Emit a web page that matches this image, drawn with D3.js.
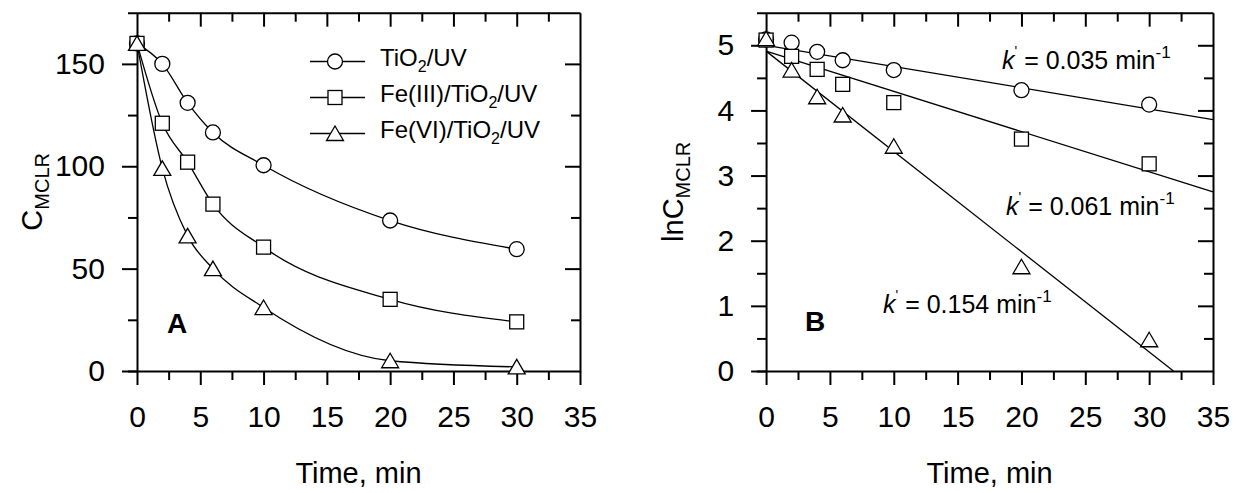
<!DOCTYPE html>
<html>
<head>
<meta charset="utf-8">
<script src="https://cdn.jsdelivr.net/npm/d3@7"></script>
<style>
  body { margin: 0; background: #fff; }
  svg { display: block; }
</style>
</head>
<body>
<div id="chart"></div>
<script>
// data
const time = [0, 2, 4, 6, 10, 20, 30];
const seriesNames = ['TiO2/UV', 'Fe(III)/TiO2/UV', 'Fe(VI)/TiO2/UV'];

// panel A: C_MCLR
const cTiO2 = [160, 150, 131, 116.5, 100.5, 73.5, 59.5];
const cFe3 = [160, 121, 102, 81.5, 60.5, 35, 24];
const cFe6 = [160, 99, 66, 50, 31, 5, 2];

// panel B: lnC_MCLR
const lnTiO2 = [5.09, 5.04, 4.90, 4.77, 4.62, 4.31, 4.09];
const lnFe3 = [5.08, 4.83, 4.63, 4.40, 4.12, 3.56, 3.18];
const lnFe6 = [5.10, 4.62, 4.21, 3.93, 3.45, 1.60, 0.48];

// linear fits in panel B (end points)
const fitX0 = [0, 0, 0];
const fitY0 = [5.0, 4.91, 4.91];
const fitX1 = [35, 35, 31.9];
const fitY1 = [3.86, 2.75, 0];
const rateK = ['0.035', '0.061', '0.154'];

const xMajor = [0, 5, 10, 15, 20, 25, 30, 35];
const xMinor = [2.5, 7.5, 12.5, 17.5, 22.5, 27.5, 32.5];
const yMajorA = [0, 50, 100, 150];
const yMinorA = [25, 75, 125];
const yMajorB = [0, 1, 2, 3, 4, 5];
const yMinorB = [0.5, 1.5, 2.5, 3.5, 4.5];

const FONT = '"Liberation Sans", Arial, Helvetica, sans-serif';
const W = 1242, H = 493;
const TOP = 12.7, BOTTOM = 371;

const svg = d3.select('#chart').append('svg')
    .attr('width', W)
    .attr('height', H)
    .style('font-family', FONT);

svg.append('rect').attr('width', W).attr('height', H).attr('fill', '#fff');

// marker shapes, index follows seriesNames
function marker(sel, i) {
    if (i === 0) {
	sel.append('circle').attr('r', 7.5)
    } else if (i === 1) {
	sel.append('rect').attr('x', -7).attr('y', -7).attr('width', 14).attr('height', 14)
    } else {
	sel.append('path').attr('d', 'M0,-7.5L8.5,7L-8.5,7Z')
    }
    sel.selectAll('circle,rect,path')
	.attr('fill', '#fff')
	.attr('stroke', '#000')
	.attr('stroke-width', 1.3)
}

function styleAxis(g, labels) {
    g.selectAll('.domain').attr('stroke-width', 2)
    g.selectAll('.tick line').attr('stroke-width', 2)
    g.attr('font-family', FONT).attr('font-size', 30)
    if (!labels) g.selectAll('text').remove()
}

function drawFrame(g, x, y, yMajor, yMinor) {
    const x0 = x(0), x35 = x(35)
    const fmt = d3.format('d')
    // bottom
    g.append('g').attr('transform', 'translate(0,' + BOTTOM + ')')
	.call(d3.axisBottom(x).tickValues(xMajor).tickFormat(fmt).tickSize(14).tickSizeOuter(0).tickPadding(21))
	.call(a => styleAxis(a, true))
    g.append('g').attr('transform', 'translate(0,' + BOTTOM + ')')
	.call(d3.axisBottom(x).tickValues(xMinor).tickSize(9).tickFormat(''))
	.call(a => { a.select('.domain').remove(); styleAxis(a, false) })
    // top (ticks inward)
    g.append('g').attr('transform', 'translate(0,' + TOP + ')')
	.call(d3.axisTop(x).tickValues(xMajor.filter(v => v > 0 && v < 35)).tickSize(-14).tickSizeOuter(0).tickFormat(''))
	.call(a => styleAxis(a, false))
    g.append('g').attr('transform', 'translate(0,' + TOP + ')')
	.call(d3.axisTop(x).tickValues(xMinor).tickSize(-9).tickFormat(''))
	.call(a => { a.select('.domain').remove(); styleAxis(a, false) })
    // left, sitting at x = 0
    g.append('g').attr('transform', 'translate(' + x0 + ',0)')
	.call(d3.axisLeft(y).tickValues(yMajor).tickFormat(fmt).tickSize(15).tickSizeOuter(0).tickPadding(17))
	.call(a => styleAxis(a, true))
    g.append('g').attr('transform', 'translate(' + x0 + ',0)')
	.call(d3.axisLeft(y).tickValues(yMinor).tickSize(9).tickFormat(''))
	.call(a => { a.select('.domain').remove(); styleAxis(a, false) })
    // right (ticks inward)
    g.append('g').attr('transform', 'translate(' + x35 + ',0)')
	.call(d3.axisRight(y).tickValues(yMajor.filter(v => v > 0)).tickSize(-15).tickSizeOuter(0).tickFormat(''))
	.call(a => styleAxis(a, false))
    g.append('g').attr('transform', 'translate(' + x35 + ',0)')
	.call(d3.axisRight(y).tickValues(yMinor).tickSize(-9).tickFormat(''))
	.call(a => { a.select('.domain').remove(); styleAxis(a, false) })
}

function xTitle(g, x) {
    g.append('text')
	.attr('x', x(17.5))
	.attr('y', 483)
	.attr('text-anchor', 'middle')
	.attr('font-size', 29)
	.text('Time, min')
}

function yTitle(g, xPos, prefix) {
    const t = g.append('text')
	.attr('transform', 'translate(' + xPos + ',' + ((TOP + BOTTOM) / 2) + ') rotate(-90)')
	.attr('text-anchor', 'middle')
	.attr('font-size', 29)
    t.append('tspan').text(prefix)
    t.append('tspan').attr('font-size', 20).attr('dy', 7).text('MCLR')
}

function points(g, x, y, vals, i) {
    g.append('g').selectAll('g')
	.data(time.map((t, j) => [t, vals[j]]))
	.enter().append('g')
	.attr('transform', d => 'translate(' + x(d[0]) + ',' + y(d[1]) + ')')
	.each(function () { marker(d3.select(this), i) })
}

// ---------- panel A ----------
const xA = d3.scaleLinear().domain([-0.75, 35]).range([127.5, 580])
const yA = d3.scaleLinear().domain([0, 175]).range([BOTTOM, TOP])
const gA = svg.append('g')
drawFrame(gA, xA, yA, yMajorA, yMinorA)

const seriesA = [cTiO2, cFe3, cFe6]
const curve = d3.line().x(d => xA(d[0])).y(d => yA(d[1])).curve(d3.curveMonotoneX)
seriesA.forEach(vals => {
    gA.append('path')
	.attr('d', curve(time.map((t, j) => [t, vals[j]])))
	.attr('fill', 'none')
	.attr('stroke', '#000')
	.attr('stroke-width', 1.3)
})
seriesA.forEach((vals, i) => points(gA, xA, yA, vals, i))

// legend
const legend = gA.append('g').attr('class', 'legend')
seriesNames.forEach((name, i) => {
    const ly = 61.5 + i * 36
    legend.append('line')
	.attr('x1', 310).attr('x2', 365)
	.attr('y1', ly).attr('y2', ly)
	.attr('stroke', '#000').attr('stroke-width', 1.3)
    marker(legend.append('g').attr('transform', 'translate(335,' + ly + ')'), i)
    const parts = name.split('TiO2')
    const txt = legend.append('text')
	.attr('x', 380).attr('y', ly + 4)
	.attr('font-size', 24)
    txt.append('tspan').text(parts[0] + 'TiO')
    txt.append('tspan').attr('font-size', 16).attr('dy', 6).text('2')
    txt.append('tspan').attr('dy', -6).text(parts[1])
})

gA.append('text')
    .attr('x', 167).attr('y', 333)
    .attr('font-size', 28).attr('font-weight', 'bold')
    .text('A')

xTitle(gA, xA)
yTitle(gA, 42, 'C')

// ---------- panel B ----------
const xB = d3.scaleLinear().domain([-0.75, 35]).range([756.5, 1213])
const yB = d3.scaleLinear().domain([0, 5.5]).range([BOTTOM, TOP])
const gB = svg.append('g')
drawFrame(gB, xB, yB, yMajorB, yMinorB)

fitX0.forEach((v, i) => {
    gB.append('line')
	.attr('x1', xB(fitX0[i])).attr('y1', yB(fitY0[i]))
	.attr('x2', xB(fitX1[i])).attr('y2', yB(fitY1[i]))
	.attr('stroke', '#000')
	.attr('stroke-width', 1.3)
})
const seriesB = [lnTiO2, lnFe3, lnFe6]
seriesB.forEach((vals, i) => points(gB, xB, yB, vals, i))

// rate constant labels
const kPos = [[1002, 69], [1006, 215], [883, 313]]
rateK.forEach((k, i) => {
    const t = gB.append('text')
	.attr('x', kPos[i][0]).attr('y', kPos[i][1])
	.attr('font-size', 25)
    t.append('tspan').attr('font-style', 'italic').text('k')
    t.append('tspan').attr('font-size', 14).attr('dy', -13).text("'")
    t.append('tspan').attr('dy', 13).text(' = ' + k + ' min')
    t.append('tspan').attr('font-size', 17).attr('dy', -11).text('-1')
})

gB.append('text')
    .attr('x', 805).attr('y', 331)
    .attr('font-size', 28).attr('font-weight', 'bold')
    .text('B')

xTitle(gB, xB)
yTitle(gB, 683, 'lnC')
</script>
</body>
</html>
